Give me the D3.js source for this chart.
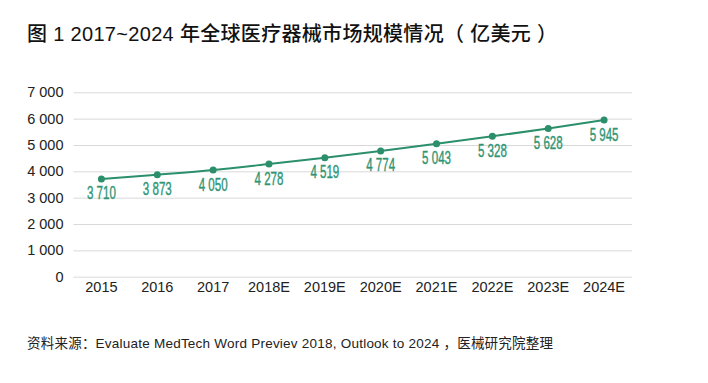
<!DOCTYPE html>
<html><head><meta charset="utf-8">
<script src="https://cdn.jsdelivr.net/npm/d3@7/dist/d3.min.js"></script>
<style>
body{margin:0;background:#fff;}
svg{display:block;}
</style></head><body>
<svg id="c" width="708" height="383"></svg>
<script>
const categories = ["2015","2016","2017","2018E","2019E","2020E","2021E","2022E","2023E","2024E"];
const values = [3710,3873,4050,4278,4519,4774,5043,5328,5628,5945];
const yTicks = [0,1000,2000,3000,4000,5000,6000,7000];
const titleText = "图 1  2017~2024 年全球医疗器械市场规模情况（ 亿美元 ）";
const sourceText = "资料来源：Evaluate MedTech Word Previev 2018, Outlook to 2024 ，医械研究院整理";

const svg = d3.select("#c");
const pLeft = 73.5, pRight = 632, pTop = 92.3, pBottom = 276.7;
const x = d3.scaleBand().domain(categories).range([pLeft, pRight]).padding(0);
const y = d3.scaleLinear().domain([0,7000]).range([pBottom, pTop]);
const fmt = v => d3.format(",")(v).replace(/,/g, " ");

svg.append("rect").attr("width",708).attr("height",383).attr("fill","#fff");

svg.append("text").attr("x",27).attr("y",41)
  .attr("font-family","'Liberation Sans','Noto Sans CJK SC',sans-serif")
  .attr("font-size",20).attr("font-weight",500).attr("fill","#111")
  .attr("textLength",530).attr("lengthAdjust","spacing")
  .text(titleText);

// grid
const yAxis = d3.axisLeft(y).tickValues(yTicks).tickSize(-(pRight-pLeft)).tickFormat(fmt);
const gy = svg.append("g").attr("transform",`translate(${pLeft},0)`).call(yAxis);
gy.select(".domain").remove();
gy.selectAll(".tick line").attr("stroke","#d9d9d9").attr("stroke-width",1);
gy.selectAll(".tick text").attr("x",-10).attr("font-family","'Liberation Sans',Arial,sans-serif")
  .attr("font-size",14.5).attr("fill","#222");

const xAxis = d3.axisBottom(x).tickSize(0);
const gx = svg.append("g").attr("transform",`translate(0,${pBottom})`).call(xAxis);
gx.select(".domain").remove();
gx.selectAll(".tick text").attr("dy",0).attr("y",15).attr("font-family","'Liberation Sans',Arial,sans-serif")
  .attr("font-size",14.5).attr("fill","#222");

const green = "#2a8f6a";
const line = d3.line().x(d=>x(d.c)+x.bandwidth()/2).y(d=>y(d.v)).curve(d3.curveMonotoneX);
const data = categories.map((c,i)=>({c, v: values[i]}));
svg.append("path").datum(data).attr("d",line).attr("fill","none").attr("stroke",green).attr("stroke-width",2);
svg.selectAll("circle.pt").data(data).join("circle").attr("class","pt")
  .attr("cx",d=>x(d.c)+x.bandwidth()/2).attr("cy",d=>y(d.v)).attr("r",3.5).attr("fill",green);
svg.selectAll("text.lbl").data(data).join("text").attr("class","lbl")
  .attr("transform",d=>`translate(${x(d.c)+x.bandwidth()/2},${y(d.v)+20.5}) scale(0.66,1)`)
  .attr("text-anchor","middle")
  .attr("font-family","'Liberation Sans',Arial,sans-serif")
  .attr("font-size",17.5).attr("fill","#2f9574")
  .attr("stroke","#2f9574").attr("stroke-width",0.4)
  .text(d=>fmt(d.v));

svg.append("text").attr("x",27).attr("y",348)
  .attr("font-family","'Liberation Sans','Noto Sans CJK SC',sans-serif")
  .attr("font-size",13.5).attr("fill","#222")
  .attr("textLength",526).attr("lengthAdjust","spacing")
  .text(sourceText);
</script></body></html>
